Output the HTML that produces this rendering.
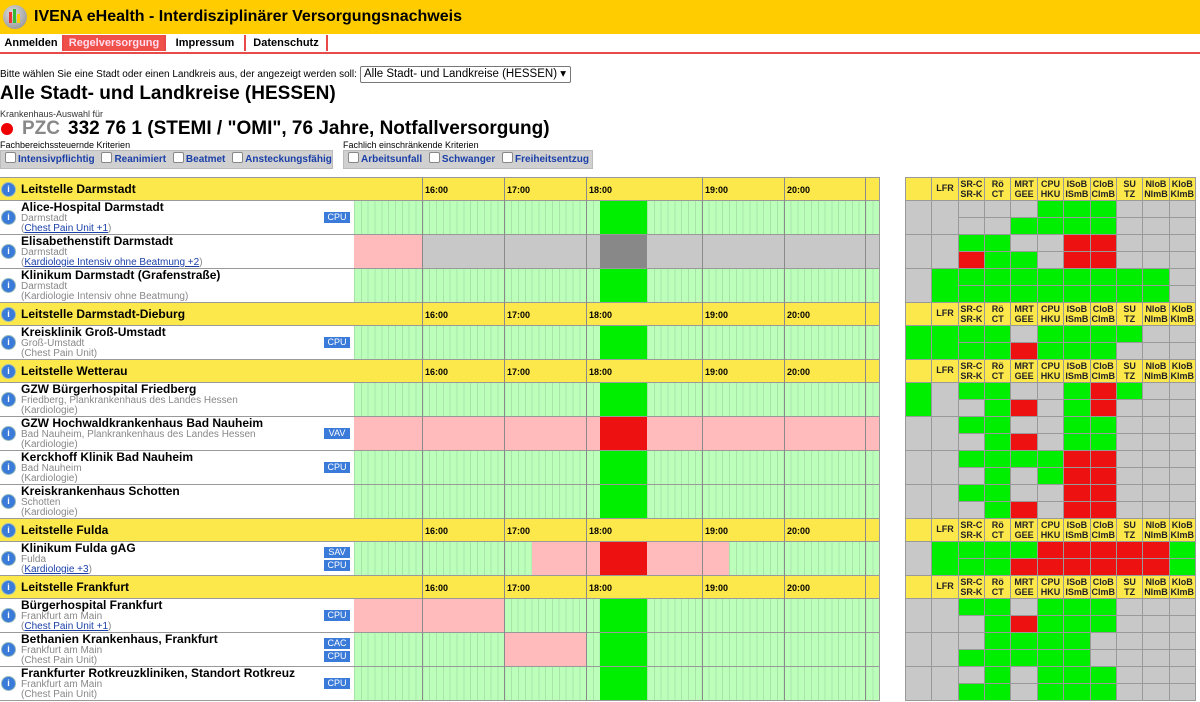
<!DOCTYPE html>
<html><head><meta charset="utf-8">
<style>
body{margin:0;width:1200px;height:702px;position:relative;overflow:hidden;font-family:"Liberation Sans",Arial,sans-serif;background:#fff;color:#000}
.a{position:absolute}
.top{left:0;top:0;width:1200px;height:34px;background:#ffcc00}
.nav{top:35px;height:16px;font-size:11px;font-weight:bold;line-height:16px;text-align:center;border-right:2px solid #e84a4a}
.yh{background:#fde84c;border-bottom:1px solid #999;height:22px}
.row{border-bottom:1px solid #999;height:33px;background:#fff}
.ic{width:13px;height:13px;border-radius:50%;background:#3a7ad8;color:#fff;font-size:9px;font-weight:bold;text-align:center;line-height:13px;border:1px solid #9bb}
.hn{left:21px;font-size:12px;font-weight:bold;white-space:nowrap;line-height:14px}
.ct{left:21px;font-size:10px;color:#888;white-space:nowrap;line-height:11px}
.ln{color:#1a3fa8;text-decoration:underline}
.bd{left:324px;width:26px;height:11px;background:#3a7ad8;color:#fff;font-size:9px;text-align:center;line-height:11px}
.tl{left:354px;width:525px;height:33px;overflow:hidden}
.s{position:absolute;top:0;height:33px}
.lg{background:#bbffbb repeating-linear-gradient(90deg,#a8e4a8 0,#a8e4a8 1px,transparent 1px,transparent 6.83px)}
.pk{background:#ffbbbb}.gy{background:#c8c8c8}.cg{background:#00ee00}.cr{background:#ee1111}.cd{background:#888}
.hl{width:1px;background:#8a8a8a;top:178px;height:523px}
.tm{font-size:9px;font-weight:bold}
.mx{left:905px;width:289px;display:grid;grid-template-columns:repeat(11,1fr);gap:1px;background:#999;padding:1px 1px 0 1px}
.mh{height:22px}
.mh div{background:#fde84c;font-size:9px;font-weight:bold;text-align:center;line-height:10px;padding-top:1px;color:#222}
.mr{height:33px;grid-template-rows:1fr 1fr}
.mr i{display:block}
.mr i.b{grid-row:span 2}
.g{background:#00ee00}.r{background:#ee1111}.x{background:#c8c8c8}
.cb{font-size:10px;font-weight:bold;color:#1a3fa8;background:#d0d0d0;height:17px;line-height:17px;border:1px solid #bbb;white-space:nowrap}
.cb span{display:inline-block;width:9px;height:9px;background:#fff;border:1px solid #888;border-radius:2px;vertical-align:-1px;margin:0 2px 0 4px}
</style></head><body>
<div class="a top"></div>
<div class="a" style="left:3px;top:5px;width:24px;height:24px;border-radius:50%;background:radial-gradient(circle at 40% 35%,#ddd,#888)"></div>
<div class="a" style="left:9px;top:12px;width:3px;height:11px;background:#e33"></div>
<div class="a" style="left:13px;top:9px;width:3px;height:14px;background:#3b3"></div>
<div class="a" style="left:17px;top:14px;width:3px;height:9px;background:#fc0"></div>
<div class="a" style="left:34px;top:8px;font-size:16px;font-weight:bold">IVENA eHealth - Interdisziplinärer Versorgungsnachweis</div>
<div class="a nav" style="left:0;width:62px">Anmelden</div>
<div class="a nav" style="left:64px;width:100px;background:#f0504a;color:#fde">Regelversorgung</div>
<div class="a nav" style="left:166px;width:78px">Impressum</div>
<div class="a nav" style="left:246px;width:80px">Datenschutz</div>
<div class="a" style="left:0;top:52px;width:1200px;height:2px;background:#e84a4a"></div>
<div class="a" style="left:0;top:69px;font-size:10px">Bitte wählen Sie eine Stadt oder einen Landkreis aus, der angezeigt werden soll:</div>
<div class="a" style="left:360px;top:66px;width:206px;height:15px;border:1px solid #777;border-radius:2px;font-size:11.5px;line-height:15px;padding-left:3px;white-space:nowrap;overflow:hidden">Alle Stadt- und Landkreise (HESSEN) ▾</div>
<div class="a" style="left:0;top:83px;font-size:19px;font-weight:bold">Alle Stadt- und Landkreise (HESSEN)</div>
<div class="a" style="left:0;top:109px;font-size:9px;color:#333">Krankenhaus-Auswahl für</div>
<div class="a" style="left:1px;top:123px;width:12px;height:12px;border-radius:50%;background:#e00"></div>
<div class="a" style="left:22px;top:118px;font-size:19px;font-weight:bold;color:#888">PZC</div>
<div class="a" style="left:68px;top:118px;font-size:19px;font-weight:bold">332 76 1 (STEMI / "OMI", 76 Jahre, Notfallversorgung)</div>
<div class="a" style="left:0;top:140px;font-size:9px">Fachbereichssteuernde Kriterien</div>
<div class="a" style="left:343px;top:140px;font-size:9px">Fachlich einschränkende Kriterien</div>
<div class="a cb" style="left:0;top:150px;width:331px"><span></span>Intensivpflichtig <span></span>Reanimiert <span></span>Beatmet <span></span>Ansteckungsfähig</div>
<div class="a cb" style="left:343px;top:150px;width:248px"><span></span>Arbeitsunfall <span></span>Schwanger <span></span>Freiheitsentzug</div>

<div class="a" style="left:0;top:177px;width:879px;height:1px;background:#999"></div>
<div class="a" style="left:17px;top:178px;width:1px;height:523px;background:#999"></div>
<div class="a" style="left:354px;top:178px;width:1px;height:523px;background:#999"></div>
<div class="a" style="left:879px;top:177px;width:1px;height:524px;background:#999"></div>

<div class="a yh" style="left:0;top:178px;width:879px"></div>
<div class="a yh" style="left:0;top:303px;width:879px"></div>
<div class="a yh" style="left:0;top:360px;width:879px"></div>
<div class="a yh" style="left:0;top:519px;width:879px"></div>
<div class="a yh" style="left:0;top:576px;width:879px"></div>
<div class="a hn" style="top:182px">Leitstelle Darmstadt</div>
<div class="a hn" style="top:307px">Leitstelle Darmstadt-Dieburg</div>
<div class="a hn" style="top:364px">Leitstelle Wetterau</div>
<div class="a hn" style="top:523px">Leitstelle Fulda</div>
<div class="a hn" style="top:580px">Leitstelle Frankfurt</div>

<div class="a row" style="left:0;top:201px;width:354px"></div>
<div class="a row" style="left:0;top:235px;width:354px"></div>
<div class="a row" style="left:0;top:269px;width:354px"></div>
<div class="a row" style="left:0;top:326px;width:354px"></div>
<div class="a row" style="left:0;top:383px;width:354px"></div>
<div class="a row" style="left:0;top:417px;width:354px"></div>
<div class="a row" style="left:0;top:451px;width:354px"></div>
<div class="a row" style="left:0;top:485px;width:354px"></div>
<div class="a row" style="left:0;top:542px;width:354px"></div>
<div class="a row" style="left:0;top:599px;width:354px"></div>
<div class="a row" style="left:0;top:633px;width:354px"></div>
<div class="a row" style="left:0;top:667px;width:354px"></div>

<div class="a ic" style="left:1px;top:182px">i</div>
<div class="a ic" style="left:1px;top:210px">i</div>
<div class="a ic" style="left:1px;top:244px">i</div>
<div class="a ic" style="left:1px;top:278px">i</div>
<div class="a ic" style="left:1px;top:307px">i</div>
<div class="a ic" style="left:1px;top:335px">i</div>
<div class="a ic" style="left:1px;top:364px">i</div>
<div class="a ic" style="left:1px;top:392px">i</div>
<div class="a ic" style="left:1px;top:426px">i</div>
<div class="a ic" style="left:1px;top:460px">i</div>
<div class="a ic" style="left:1px;top:494px">i</div>
<div class="a ic" style="left:1px;top:523px">i</div>
<div class="a ic" style="left:1px;top:551px">i</div>
<div class="a ic" style="left:1px;top:580px">i</div>
<div class="a ic" style="left:1px;top:608px">i</div>
<div class="a ic" style="left:1px;top:642px">i</div>
<div class="a ic" style="left:1px;top:676px">i</div>

<div class="a hn" style="top:200px">Alice-Hospital Darmstadt</div>
<div class="a ct" style="top:213px">Darmstadt</div>
<div class="a ct" style="top:223px">(<span class="ln">Chest Pain Unit +1</span>)</div>
<div class="a bd" style="top:212px">CPU</div>
<div class="a hn" style="top:234px">Elisabethenstift Darmstadt</div>
<div class="a ct" style="top:247px">Darmstadt</div>
<div class="a ct" style="top:257px">(<span class="ln">Kardiologie Intensiv ohne Beatmung +2</span>)</div>
<div class="a hn" style="top:268px">Klinikum Darmstadt (Grafenstraße)</div>
<div class="a ct" style="top:281px">Darmstadt</div>
<div class="a ct" style="top:291px">(Kardiologie Intensiv ohne Beatmung)</div>
<div class="a hn" style="top:325px">Kreisklinik Groß-Umstadt</div>
<div class="a ct" style="top:338px">Groß-Umstadt</div>
<div class="a ct" style="top:348px">(Chest Pain Unit)</div>
<div class="a bd" style="top:337px">CPU</div>
<div class="a hn" style="top:382px">GZW Bürgerhospital Friedberg</div>
<div class="a ct" style="top:395px">Friedberg, Plankrankenhaus des Landes Hessen</div>
<div class="a ct" style="top:405px">(Kardiologie)</div>
<div class="a hn" style="top:416px">GZW Hochwaldkrankenhaus Bad Nauheim</div>
<div class="a ct" style="top:429px">Bad Nauheim, Plankrankenhaus des Landes Hessen</div>
<div class="a ct" style="top:439px">(Kardiologie)</div>
<div class="a bd" style="top:428px">VAV</div>
<div class="a hn" style="top:450px">Kerckhoff Klinik Bad Nauheim</div>
<div class="a ct" style="top:463px">Bad Nauheim</div>
<div class="a ct" style="top:473px">(Kardiologie)</div>
<div class="a bd" style="top:462px">CPU</div>
<div class="a hn" style="top:484px">Kreiskrankenhaus Schotten</div>
<div class="a ct" style="top:497px">Schotten</div>
<div class="a ct" style="top:507px">(Kardiologie)</div>
<div class="a hn" style="top:541px">Klinikum Fulda gAG</div>
<div class="a ct" style="top:554px">Fulda</div>
<div class="a ct" style="top:564px">(<span class="ln">Kardiologie +3</span>)</div>
<div class="a bd" style="top:547px">SAV</div>
<div class="a bd" style="top:560px">CPU</div>
<div class="a hn" style="top:598px">Bürgerhospital Frankfurt</div>
<div class="a ct" style="top:611px">Frankfurt am Main</div>
<div class="a ct" style="top:621px">(<span class="ln">Chest Pain Unit +1</span>)</div>
<div class="a bd" style="top:610px">CPU</div>
<div class="a hn" style="top:632px">Bethanien Krankenhaus, Frankfurt</div>
<div class="a ct" style="top:645px">Frankfurt am Main</div>
<div class="a ct" style="top:655px">(Chest Pain Unit)</div>
<div class="a bd" style="top:638px">CAC</div>
<div class="a bd" style="top:651px">CPU</div>
<div class="a hn" style="top:666px">Frankfurter Rotkreuzkliniken, Standort Rotkreuz</div>
<div class="a ct" style="top:679px">Frankfurt am Main</div>
<div class="a ct" style="top:689px">(Chest Pain Unit)</div>
<div class="a bd" style="top:678px">CPU</div>

<div class="a tl" style="top:201px"><div class="s lg" style="left:0;width:246px"></div><div class="s cg" style="left:246px;width:47px"></div><div class="s lg" style="left:293px;width:232px"></div></div>
<div class="a tl" style="top:235px"><div class="s pk" style="left:0;width:68px"></div><div class="s gy" style="left:68px;width:178px"></div><div class="s cd" style="left:246px;width:47px"></div><div class="s gy" style="left:293px;width:232px"></div></div>
<div class="a tl" style="top:269px"><div class="s lg" style="left:0;width:246px"></div><div class="s cg" style="left:246px;width:47px"></div><div class="s lg" style="left:293px;width:232px"></div></div>
<div class="a tl" style="top:326px"><div class="s lg" style="left:0;width:246px"></div><div class="s cg" style="left:246px;width:47px"></div><div class="s lg" style="left:293px;width:232px"></div></div>
<div class="a tl" style="top:383px"><div class="s lg" style="left:0;width:246px"></div><div class="s cg" style="left:246px;width:47px"></div><div class="s lg" style="left:293px;width:232px"></div></div>
<div class="a tl" style="top:417px"><div class="s pk" style="left:0;width:246px"></div><div class="s cr" style="left:246px;width:47px"></div><div class="s pk" style="left:293px;width:232px"></div></div>
<div class="a tl" style="top:451px"><div class="s lg" style="left:0;width:246px"></div><div class="s cg" style="left:246px;width:47px"></div><div class="s lg" style="left:293px;width:232px"></div></div>
<div class="a tl" style="top:485px"><div class="s lg" style="left:0;width:246px"></div><div class="s cg" style="left:246px;width:47px"></div><div class="s lg" style="left:293px;width:232px"></div></div>
<div class="a tl" style="top:542px"><div class="s lg" style="left:0;width:178px"></div><div class="s pk" style="left:178px;width:68px"></div><div class="s cr" style="left:246px;width:47px"></div><div class="s pk" style="left:293px;width:82px"></div><div class="s lg" style="left:375px;width:150px"></div></div>
<div class="a tl" style="top:599px"><div class="s pk" style="left:0;width:150px"></div><div class="s lg" style="left:150px;width:96px"></div><div class="s cg" style="left:246px;width:47px"></div><div class="s lg" style="left:293px;width:232px"></div></div>
<div class="a tl" style="top:633px"><div class="s lg" style="left:0;width:150px"></div><div class="s pk" style="left:150px;width:82px"></div><div class="s lg" style="left:232px;width:14px"></div><div class="s cg" style="left:246px;width:47px"></div><div class="s lg" style="left:293px;width:232px"></div></div>
<div class="a tl" style="top:667px"><div class="s lg" style="left:0;width:246px"></div><div class="s cg" style="left:246px;width:47px"></div><div class="s lg" style="left:293px;width:232px"></div></div>

<div class="a" style="left:354px;top:234px;width:525px;height:1px;background:#999"></div>
<div class="a" style="left:354px;top:268px;width:525px;height:1px;background:#999"></div>
<div class="a" style="left:354px;top:302px;width:525px;height:1px;background:#999"></div>
<div class="a" style="left:354px;top:359px;width:525px;height:1px;background:#999"></div>
<div class="a" style="left:354px;top:416px;width:525px;height:1px;background:#999"></div>
<div class="a" style="left:354px;top:450px;width:525px;height:1px;background:#999"></div>
<div class="a" style="left:354px;top:484px;width:525px;height:1px;background:#999"></div>
<div class="a" style="left:354px;top:518px;width:525px;height:1px;background:#999"></div>
<div class="a" style="left:354px;top:575px;width:525px;height:1px;background:#999"></div>
<div class="a" style="left:354px;top:632px;width:525px;height:1px;background:#999"></div>
<div class="a" style="left:354px;top:666px;width:525px;height:1px;background:#999"></div>
<div class="a" style="left:0;top:700px;width:880px;height:1px;background:#999"></div>

<div class="a hl" style="left:422px"></div>
<div class="a hl" style="left:504px"></div>
<div class="a hl" style="left:586px"></div>
<div class="a hl" style="left:702px"></div>
<div class="a hl" style="left:784px"></div>
<div class="a hl" style="left:865px"></div>

<div class="a tm" style="left:425px;top:185px">16:00</div><div class="a tm" style="left:507px;top:185px">17:00</div><div class="a tm" style="left:589px;top:185px">18:00</div><div class="a tm" style="left:705px;top:185px">19:00</div><div class="a tm" style="left:787px;top:185px">20:00</div>
<div class="a tm" style="left:425px;top:310px">16:00</div><div class="a tm" style="left:507px;top:310px">17:00</div><div class="a tm" style="left:589px;top:310px">18:00</div><div class="a tm" style="left:705px;top:310px">19:00</div><div class="a tm" style="left:787px;top:310px">20:00</div>
<div class="a tm" style="left:425px;top:367px">16:00</div><div class="a tm" style="left:507px;top:367px">17:00</div><div class="a tm" style="left:589px;top:367px">18:00</div><div class="a tm" style="left:705px;top:367px">19:00</div><div class="a tm" style="left:787px;top:367px">20:00</div>
<div class="a tm" style="left:425px;top:526px">16:00</div><div class="a tm" style="left:507px;top:526px">17:00</div><div class="a tm" style="left:589px;top:526px">18:00</div><div class="a tm" style="left:705px;top:526px">19:00</div><div class="a tm" style="left:787px;top:526px">20:00</div>
<div class="a tm" style="left:425px;top:583px">16:00</div><div class="a tm" style="left:507px;top:583px">17:00</div><div class="a tm" style="left:589px;top:583px">18:00</div><div class="a tm" style="left:705px;top:583px">19:00</div><div class="a tm" style="left:787px;top:583px">20:00</div>

<div class="a mx mh" style="top:177px"><div></div><div style="line-height:20px;padding:0">LFR</div><div>SR-C<br>SR-K</div><div>Rö<br>CT</div><div>MRT<br>GEE</div><div>CPU<br>HKU</div><div>ISoB<br>ISmB</div><div>CloB<br>ClmB</div><div>SU<br>TZ</div><div>NloB<br>NlmB</div><div>KloB<br>KlmB</div></div>
<div class="a mx mh" style="top:302px"><div></div><div style="line-height:20px;padding:0">LFR</div><div>SR-C<br>SR-K</div><div>Rö<br>CT</div><div>MRT<br>GEE</div><div>CPU<br>HKU</div><div>ISoB<br>ISmB</div><div>CloB<br>ClmB</div><div>SU<br>TZ</div><div>NloB<br>NlmB</div><div>KloB<br>KlmB</div></div>
<div class="a mx mh" style="top:359px"><div></div><div style="line-height:20px;padding:0">LFR</div><div>SR-C<br>SR-K</div><div>Rö<br>CT</div><div>MRT<br>GEE</div><div>CPU<br>HKU</div><div>ISoB<br>ISmB</div><div>CloB<br>ClmB</div><div>SU<br>TZ</div><div>NloB<br>NlmB</div><div>KloB<br>KlmB</div></div>
<div class="a mx mh" style="top:518px"><div></div><div style="line-height:20px;padding:0">LFR</div><div>SR-C<br>SR-K</div><div>Rö<br>CT</div><div>MRT<br>GEE</div><div>CPU<br>HKU</div><div>ISoB<br>ISmB</div><div>CloB<br>ClmB</div><div>SU<br>TZ</div><div>NloB<br>NlmB</div><div>KloB<br>KlmB</div></div>
<div class="a mx mh" style="top:575px"><div></div><div style="line-height:20px;padding:0">LFR</div><div>SR-C<br>SR-K</div><div>Rö<br>CT</div><div>MRT<br>GEE</div><div>CPU<br>HKU</div><div>ISoB<br>ISmB</div><div>CloB<br>ClmB</div><div>SU<br>TZ</div><div>NloB<br>NlmB</div><div>KloB<br>KlmB</div></div>

<div class="a mx mr" style="top:200px"><i class="b x"></i><i class="b x"></i><i class="x"></i><i class="x"></i><i class="x"></i><i class="g"></i><i class="g"></i><i class="g"></i><i class="x"></i><i class="x"></i><i class="x"></i><i class="x"></i><i class="x"></i><i class="g"></i><i class="g"></i><i class="g"></i><i class="g"></i><i class="x"></i><i class="x"></i><i class="x"></i></div>
<div class="a mx mr" style="top:234px"><i class="b x"></i><i class="b x"></i><i class="g"></i><i class="g"></i><i class="x"></i><i class="x"></i><i class="r"></i><i class="r"></i><i class="x"></i><i class="x"></i><i class="x"></i><i class="r"></i><i class="g"></i><i class="g"></i><i class="x"></i><i class="r"></i><i class="r"></i><i class="x"></i><i class="x"></i><i class="x"></i></div>
<div class="a mx mr" style="top:268px"><i class="b x"></i><i class="b g"></i><i class="g"></i><i class="g"></i><i class="g"></i><i class="g"></i><i class="g"></i><i class="g"></i><i class="g"></i><i class="g"></i><i class="x"></i><i class="g"></i><i class="g"></i><i class="g"></i><i class="g"></i><i class="g"></i><i class="g"></i><i class="g"></i><i class="g"></i><i class="x"></i></div>
<div class="a mx mr" style="top:325px"><i class="b g"></i><i class="b g"></i><i class="g"></i><i class="g"></i><i class="x"></i><i class="g"></i><i class="g"></i><i class="g"></i><i class="g"></i><i class="x"></i><i class="x"></i><i class="g"></i><i class="g"></i><i class="r"></i><i class="g"></i><i class="g"></i><i class="g"></i><i class="x"></i><i class="x"></i><i class="x"></i></div>
<div class="a mx mr" style="top:382px"><i class="b g"></i><i class="b x"></i><i class="g"></i><i class="g"></i><i class="x"></i><i class="x"></i><i class="g"></i><i class="r"></i><i class="g"></i><i class="x"></i><i class="x"></i><i class="x"></i><i class="g"></i><i class="r"></i><i class="x"></i><i class="g"></i><i class="r"></i><i class="x"></i><i class="x"></i><i class="x"></i></div>
<div class="a mx mr" style="top:416px"><i class="b x"></i><i class="b x"></i><i class="g"></i><i class="g"></i><i class="x"></i><i class="x"></i><i class="g"></i><i class="g"></i><i class="x"></i><i class="x"></i><i class="x"></i><i class="x"></i><i class="g"></i><i class="r"></i><i class="x"></i><i class="g"></i><i class="g"></i><i class="x"></i><i class="x"></i><i class="x"></i></div>
<div class="a mx mr" style="top:450px"><i class="b x"></i><i class="b x"></i><i class="g"></i><i class="g"></i><i class="g"></i><i class="g"></i><i class="r"></i><i class="r"></i><i class="x"></i><i class="x"></i><i class="x"></i><i class="x"></i><i class="g"></i><i class="x"></i><i class="g"></i><i class="r"></i><i class="r"></i><i class="x"></i><i class="x"></i><i class="x"></i></div>
<div class="a mx mr" style="top:484px"><i class="b x"></i><i class="b x"></i><i class="g"></i><i class="g"></i><i class="x"></i><i class="x"></i><i class="r"></i><i class="r"></i><i class="x"></i><i class="x"></i><i class="x"></i><i class="x"></i><i class="g"></i><i class="r"></i><i class="x"></i><i class="r"></i><i class="r"></i><i class="x"></i><i class="x"></i><i class="x"></i></div>
<div class="a mx mr" style="top:541px"><i class="b x"></i><i class="b g"></i><i class="g"></i><i class="g"></i><i class="g"></i><i class="r"></i><i class="r"></i><i class="r"></i><i class="r"></i><i class="r"></i><i class="g"></i><i class="g"></i><i class="g"></i><i class="r"></i><i class="r"></i><i class="r"></i><i class="r"></i><i class="r"></i><i class="r"></i><i class="g"></i></div>
<div class="a mx mr" style="top:598px"><i class="b x"></i><i class="b x"></i><i class="g"></i><i class="g"></i><i class="x"></i><i class="g"></i><i class="g"></i><i class="g"></i><i class="x"></i><i class="x"></i><i class="x"></i><i class="x"></i><i class="g"></i><i class="r"></i><i class="g"></i><i class="g"></i><i class="g"></i><i class="x"></i><i class="x"></i><i class="x"></i></div>
<div class="a mx mr" style="top:632px"><i class="b x"></i><i class="b x"></i><i class="x"></i><i class="g"></i><i class="g"></i><i class="g"></i><i class="g"></i><i class="x"></i><i class="x"></i><i class="x"></i><i class="x"></i><i class="g"></i><i class="g"></i><i class="g"></i><i class="g"></i><i class="g"></i><i class="x"></i><i class="x"></i><i class="x"></i><i class="x"></i></div>
<div class="a mx mr" style="top:666px"><i class="b x"></i><i class="b x"></i><i class="x"></i><i class="g"></i><i class="x"></i><i class="g"></i><i class="g"></i><i class="g"></i><i class="x"></i><i class="x"></i><i class="x"></i><i class="g"></i><i class="g"></i><i class="x"></i><i class="g"></i><i class="g"></i><i class="g"></i><i class="x"></i><i class="x"></i><i class="x"></i></div>
<div class="a" style="left:905px;top:700px;width:291px;height:1px;background:#999"></div>
</body></html>
